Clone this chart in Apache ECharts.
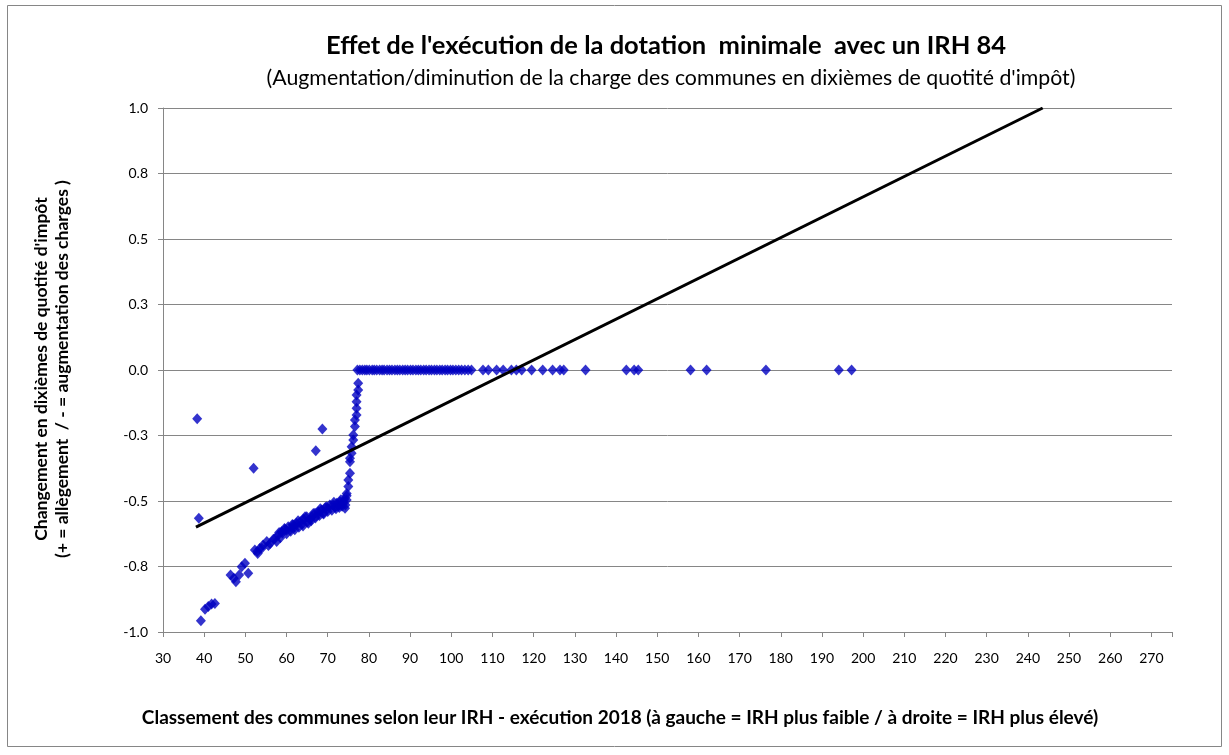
<!DOCTYPE html>
<html>
<head>
<meta charset="utf-8">
<script src="https://cdn.jsdelivr.net/npm/echarts@6/dist/echarts.min.js"></script>
<style>
html,body{margin:0;padding:0;background:#fff;}
#chart{width:1229px;height:755px;}
</style>
</head>
<body>
<div id="chart"></div>
<script>
// ---- Data ----
const titleText = "Effet de l'exécution de la dotation  minimale  avec un IRH 84";
const subtitleText = "(Augmentation/diminution de la charge des communes en dixièmes de quotité d'impôt)";
const yAxisName = "Changement en dixièmes de quotité d'impôt\n(+ = allègement  / - = augmentation des charges )";
const xAxisName = "Classement des communes selon leur IRH - exécution 2018 (à gauche = IRH plus faible / à droite = IRH plus élevé)";

const yTickValues = [-1, -0.75, -0.5, -0.25, 0, 0.25, 0.5, 0.75, 1];
const yTickLabels = ["-1.0", "-0.8", "-0.5", "-0.3", "0.0", "0.3", "0.5", "0.8", "1.0"];

// scatter: communes (x = IRH, y = change)
const pointsX = [
  38.3, 38.7, 39.2,
  40.2, 41.0, 41.8, 42.6,
  46.4, 47.2, 47.7, 48.5, 49.1, 49.9, 50.7,
  52.0,
  52.3, 52.9, 53.5, 54.3, 55.2, 56.0, 56.8, 53.0, 54.0, 55.6,
  57.2, 58.0, 58.8, 59.0, 59.6, 60.0, 60.4, 61.2, 61.6, 62.0, 62.4, 63.3, 63.8, 64.1, 64.9, 65.3, 65.8, 66.1,
  66.9, 67.3, 67.7, 68.5, 68.9, 69.7, 70.0, 70.5, 71.3, 71.8, 72.2, 72.6, 73.0, 73.4, 73.8, 74.0, 74.2,
  57.6, 58.5, 60.0, 61.0, 62.0, 63.0, 64.0, 65.0, 66.0, 67.0, 68.0, 69.0, 70.0, 71.0, 72.0, 72.8, 73.5, 74.3,
  58.2, 59.5, 61.4, 62.8, 64.5, 66.5, 68.2, 69.4, 71.5, 73.2, 74.6,
  67.1, 68.7,
  74.6, 74.6, 75.0, 75.0, 75.4, 75.4, 75.4, 75.8, 75.8, 76.2, 76.2, 76.6, 76.6, 77.0, 77.0, 77.0, 77.0, 77.4, 77.4,
  77.2, 77.8, 78.4, 79.0, 79.5, 80.1, 80.8, 81.3, 81.9, 82.6, 83.2, 83.7, 84.4, 85.0, 85.6, 86.3, 86.9, 87.5,
  88.2, 88.8, 89.4, 90.1, 90.7, 91.4, 92.0, 92.6, 93.3, 93.9, 94.6, 95.2, 95.9, 96.5, 97.2, 97.8, 98.5, 99.1,
  99.8, 100.4, 101.1, 101.8, 102.5, 103.3, 104.1, 104.9, 107.7, 109.0, 111.0, 112.6, 114.6, 115.8, 117.1,
  119.5, 122.2, 124.6, 126.4, 127.3, 132.6, 142.5, 144.4, 145.4, 158.1, 162.0, 176.4, 194.1, 197.2
];
const pointsY = [
  -0.186, -0.566, -0.957,
  -0.913, -0.903, -0.893, -0.891,
  -0.782, -0.795, -0.808, -0.782, -0.751, -0.738, -0.776,
  -0.375,
  -0.687, -0.693, -0.681, -0.668, -0.655, -0.662, -0.646, -0.700, -0.680, -0.670,
  -0.643, -0.630, -0.617, -0.622, -0.608, -0.612, -0.598, -0.604, -0.592, -0.598, -0.585, -0.579, -0.588, -0.570, -0.560, -0.585, -0.570, -0.560,
  -0.547, -0.556, -0.541, -0.534, -0.547, -0.522, -0.530, -0.515, -0.515, -0.524, -0.509, -0.518, -0.503, -0.512, -0.503, -0.495, -0.528,
  -0.655, -0.640, -0.625, -0.615, -0.610, -0.600, -0.595, -0.580, -0.575, -0.565, -0.555, -0.550, -0.540, -0.535, -0.530, -0.525, -0.520, -0.515,
  -0.620, -0.605, -0.590, -0.575, -0.560, -0.548, -0.530, -0.525, -0.505, -0.495, -0.480,
  -0.308, -0.225,
  -0.496, -0.471, -0.445, -0.420, -0.394, -0.350, -0.337, -0.318, -0.293, -0.267, -0.248, -0.216, -0.191, -0.172, -0.146, -0.121, -0.095, -0.076, -0.051,
  0, 0, 0, 0, 0, 0, 0, 0, 0, 0, 0, 0, 0, 0, 0, 0, 0, 0,
  0, 0, 0, 0, 0, 0, 0, 0, 0, 0, 0, 0, 0, 0, 0, 0, 0, 0,
  0, 0, 0, 0, 0, 0, 0, 0, 0, 0, 0, 0, 0, 0, 0,
  0, 0, 0, 0, 0, 0, 0, 0, 0, 0, 0, 0, 0, 0
];

// linear trend line endpoints
const trendX = [38.0, 243.6];
const trendY = [-0.600, 1.0];

// ---- Chart ----
const FONT = "Lato, 'Open Sans', sans-serif";
const chart = echarts.init(document.getElementById('chart'), null, {renderer: 'canvas'});
const scatterData = pointsX.map((x, i) => [x, pointsY[i]]);
const trendData = trendX.map((x, i) => [x, trendY[i]]);

chart.setOption({
  backgroundColor: '#ffffff',
  animation: false,
  textStyle: {fontFamily: FONT},
  title: [
    {text: titleText, left: 661, top: 28, textAlign: 'center',
     textStyle: {fontFamily: FONT, fontSize: 25.5, fontWeight: 'bold', color: '#000'}},
    {text: subtitleText, left: 666, top: 63, textAlign: 'center',
     textStyle: {fontFamily: FONT, fontSize: 21.3, fontWeight: 'normal', color: '#000'}}
  ],
  grid: {left: 163, top: 108, right: 57, bottom: 123, containLabel: false},
  xAxis: {
    type: 'value', min: 30, max: 275, interval: 10,
    axisLine: {show: true, onZero: false, lineStyle: {color: '#868686', width: 1}},
    axisTick: {show: true, length: 5, lineStyle: {color: '#868686'}},
    axisLabel: {margin: 19, fontSize: 14, color: '#000', fontFamily: FONT,
      formatter: v => (Math.abs(v % 10) < 1e-9 ? String(v) : '')},
    splitLine: {show: false}
  },
  yAxis: {
    type: 'value', min: -1, max: 1, interval: 0.25,
    axisLine: {show: true, lineStyle: {color: '#868686', width: 1}},
    axisTick: {show: true, length: 5, lineStyle: {color: '#868686'}},
    axisLabel: {margin: 15, fontSize: 14, color: '#000', fontFamily: FONT,
      formatter: v => {
        const i = yTickValues.findIndex(t => Math.abs(t - v) < 1e-9);
        return i >= 0 ? yTickLabels[i] : '';
      }},
    splitLine: {show: true, lineStyle: {color: '#868686', width: 1}}
  },
  series: [
    {
      type: 'scatter', name: 'Communes', data: scatterData,
      symbol: 'diamond', symbolSize: [10, 11],
      itemStyle: {color: '#0000C0'}, z: 3
    },
    {
      type: 'line', name: 'Tendance', data: trendData,
      symbol: 'none', lineStyle: {color: '#000', width: 3}, z: 4, clip: true
    }
  ],
  graphic: [
    {type: 'rect', shape: {x: 7.5, y: 5.5, width: 1214, height: 741},
     style: {fill: 'none', stroke: '#868686', lineWidth: 1}, silent: true, z: -1},
    {type: 'text', x: 52, y: 369, rotation: Math.PI / 2,
     style: {text: yAxisName, font: "bold 17.5px " + FONT, fill: '#000',
             textAlign: 'center', textVerticalAlign: 'middle', lineHeight: 21}},
    {type: 'text', x: 620, y: 718,
     style: {text: xAxisName, font: "bold 19px " + FONT, fill: '#000',
             textAlign: 'center', textVerticalAlign: 'middle'}}
  ]
});
</script>
</body>
</html>
